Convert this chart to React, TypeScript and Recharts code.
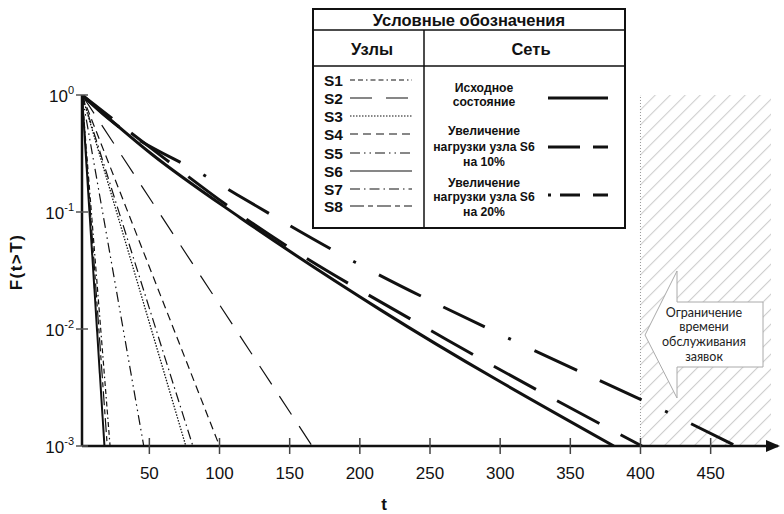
import { LineChart, Line, XAxis, YAxis, ReferenceArea, ReferenceLine } from "recharts";

// axis ticks
const xTicks = [50, 100, 150, 200, 250, 300, 350, 400, 450];
const yTicks = [0.001, 0.01, 0.1, 1];
const yTickPowers = ["-3", "-2", "-1", "0"];

// nodes S1..S8: straight decay from F=1 to F=0.001
const startT = 2;
const nodeNames = ["S1", "S2", "S3", "S4", "S5", "S6", "S7", "S8"];
const nodeEndT = [22, 166, 76, 100, 46, 18, 81, 20];

// network curves
const baseT = [2, 52, 115, 215, 381];
const baseF = [1, 0.31, 0.089, 0.0145, 0.001];
const load10T = [2, 50, 113, 262, 401];
const load10F = [1, 0.36, 0.098, 0.0081, 0.001];
const load20T = [2, 20, 90, 197, 308, 421, 468];
const load20F = [1, 0.64, 0.203, 0.037, 0.0081, 0.0019, 0.001];

// service time limit zone
const limitT = 400;
const limitEndT = 493;

const nodeDash = ["5 3 5 3 1.5 3", "22 14", "1.5 1.5", "8 5", "10 4 1.5 4 1.5 4", "", "10 4 1.5 4", "14 4 5 4"];
const nodeWidth = [1.2, 1.2, 1.3, 1.2, 1.2, 2, 1.2, 1.2];

const netNames = ["Исходное состояние", "Увеличение нагрузки узла S6 на 10%", "Увеличение нагрузки узла S6 на 20%"];
const netDash = ["", "48 24", "3 26 47 25 46 26"];
const netDashOffset = [0, 10, 27];

const pts = (ts: number[], fs: number[]) => ts.map((t, i) => ({ t, F: fs[i] }));
const nodeData = nodeEndT.map((e) => pts([startT, e], [1, 0.001]));
const netData = [pts(baseT, baseF), pts(load10T, load10F), pts(load20T, load20F)];

const FONT = "'Liberation Sans', Arial, sans-serif";

const XTick = ({ x, y, payload }: any) => (
  <g>
    <line x1={x} x2={x} y1={y - 8} y2={y + 8} stroke="#444" strokeWidth={1.5} />
    <text x={x} y={y + 33} textAnchor="middle" fontSize={17} fontFamily={FONT} fill="#111">
      {payload.value}
    </text>
  </g>
);

const YTick = ({ x, y, payload }: any) => {
  const idx = yTicks.indexOf(payload.value);
  return (
    <g>
      <line x1={x - 6} x2={x + 6} y1={y} y2={y} stroke="#555" strokeWidth={1.5} />
      <text x={x - 8} y={y + 7} textAnchor="end" fontSize={17} fontFamily={FONT} fill="#111">
        10<tspan dy={-8} fontSize={11}>{yTickPowers[idx]}</tspan>
      </text>
    </g>
  );
};

const nodeRowY = [80, 98, 116, 134, 153, 171, 189, 206];

function LegendTable() {
  return (
    <g fontFamily={FONT} fontWeight="bold" fill="#111">
      <rect x={313} y={9} width={312} height={219} fill="#fff" stroke="#111" strokeWidth={2} />
      <line x1={313} x2={625} y1={30} y2={30} stroke="#111" strokeWidth={1.5} />
      <line x1={313} x2={625} y1={66} y2={66} stroke="#111" strokeWidth={1.5} />
      <line x1={424} x2={424} y1={30} y2={228} stroke="#111" strokeWidth={1.5} />
      <text x={469} y={26} textAnchor="middle" fontSize={16.5}>Условные обозначения</text>
      <text x={372} y={55} textAnchor="middle" fontSize={16.5}>Узлы</text>
      <text x={531} y={55} textAnchor="middle" fontSize={16.5}>Сеть</text>
      {nodeNames.map((n, i) => (
        <g key={n}>
          <text x={324} y={nodeRowY[i] + 6} fontSize={15.5}>{n}</text>
          <line x1={350} x2={412} y1={nodeRowY[i]} y2={nodeRowY[i]} stroke="#111"
            strokeWidth={1.2} strokeDasharray={nodeDash[i] || undefined} />
        </g>
      ))}
      <g fontSize={12.2} textAnchor="middle">
        <text x={484} y={92}>Исходное</text>
        <text x={484} y={106}>состояние</text>
        <text x={484} y={135}>Увеличение</text>
        <text x={484} y={151}>нагрузки узла S6</text>
        <text x={484} y={166}>на 10%</text>
        <text x={484} y={187}>Увеличение</text>
        <text x={484} y={201}>нагрузки узла S6</text>
        <text x={484} y={216}>на 20%</text>
      </g>
      <line x1={548} x2={608} y1={98} y2={98} stroke="#111" strokeWidth={3} />
      <line x1={548} x2={608} y1={147} y2={147} stroke="#111" strokeWidth={3} strokeDasharray="32 13 15" />
      <line x1={548} x2={608} y1={195} y2={195} stroke="#111" strokeWidth={3} strokeDasharray="3 9 20 13 15" />
    </g>
  );
}

function Callout() {
  return (
    <g>
      <path d="M763,302 L677,302 L677,271 L645,335 L677,398 L677,367 L763,367 Z" fill="#fff" stroke="#aaa" strokeWidth={1} />
      <g fontFamily="Lato, 'Open Sans', sans-serif" fontSize={12.5} fill="#222" textAnchor="middle">
        <text x={704} y={317}>Ограничение</text>
        <text x={704} y={331}>времени</text>
        <text x={704} y={346}>обслуживания</text>
        <text x={704} y={361}>заявок</text>
      </g>
    </g>
  );
}

export default function App() {
  return (
    <div style={{ position: "relative", width: 784, height: 514, background: "#fff" }}>
      <style>{`body{margin:0}`}</style>
      <LineChart width={784} height={514} margin={{ top: 95, right: 6, bottom: 38, left: 22 }}>
        <defs>
          <pattern id="hatch" width="10.6" height="10.6" patternUnits="userSpaceOnUse" patternTransform="rotate(45)">
            <line x1="0" y1="0" x2="0" y2="10.6" stroke="#cfcfcf" strokeWidth="2.2" />
          </pattern>
        </defs>
        <XAxis type="number" dataKey="t" domain={[2, 498]} ticks={xTicks} allowDataOverflow
          axisLine={{ stroke: "#111", strokeWidth: 2.5 }} tickLine={false} tickSize={0} tickMargin={0}
          tick={<XTick />} height={30} />
        <YAxis type="number" scale="log" domain={[0.001, 1]} ticks={yTicks} allowDataOverflow
          axisLine={{ stroke: "#111", strokeWidth: 2.5 }} tickLine={false} tickSize={0} tickMargin={0}
          tick={<YTick />} width={60} />
        <ReferenceArea x1={limitT} x2={limitEndT} y1={0.001} y2={1} fill="url(#hatch)" fillOpacity={1}
          stroke="none" ifOverflow="visible" />
        <ReferenceLine x={limitT} stroke="#999" strokeDasharray="1 2" />
        {nodeData.map((d, i) => (
          <Line key={nodeNames[i]} data={d} dataKey="F" name={nodeNames[i]} type="linear" stroke="#111"
            strokeWidth={nodeWidth[i]} strokeDasharray={nodeDash[i] || undefined} dot={false}
            isAnimationActive={false} />
        ))}
        {netData.map((d, i) => (
          <Line key={netNames[i]} data={d} dataKey="F" name={netNames[i]} type="monotone" stroke="#111"
            strokeWidth={3} strokeDasharray={netDash[i] || undefined} strokeDashoffset={netDashOffset[i]}
            dot={false} isAnimationActive={false} />
        ))}
      </LineChart>
      <svg width={784} height={514} style={{ position: "absolute", left: 0, top: 0, pointerEvents: "none" }}>
        <polygon points="766,440 780,446 766,452" fill="#111" />
        <Callout />
        <LegendTable />
        <text x={22} y={262} transform="rotate(-90 22 262)" textAnchor="middle" fontFamily={FONT}
          fontWeight="bold" fontSize={17} letterSpacing={1.5} fill="#111">F(t&gt;T)</text>
        <text x={384} y={510} textAnchor="middle" fontFamily={FONT} fontWeight="bold" fontSize={17} fill="#111">t</text>
      </svg>
    </div>
  );
}
